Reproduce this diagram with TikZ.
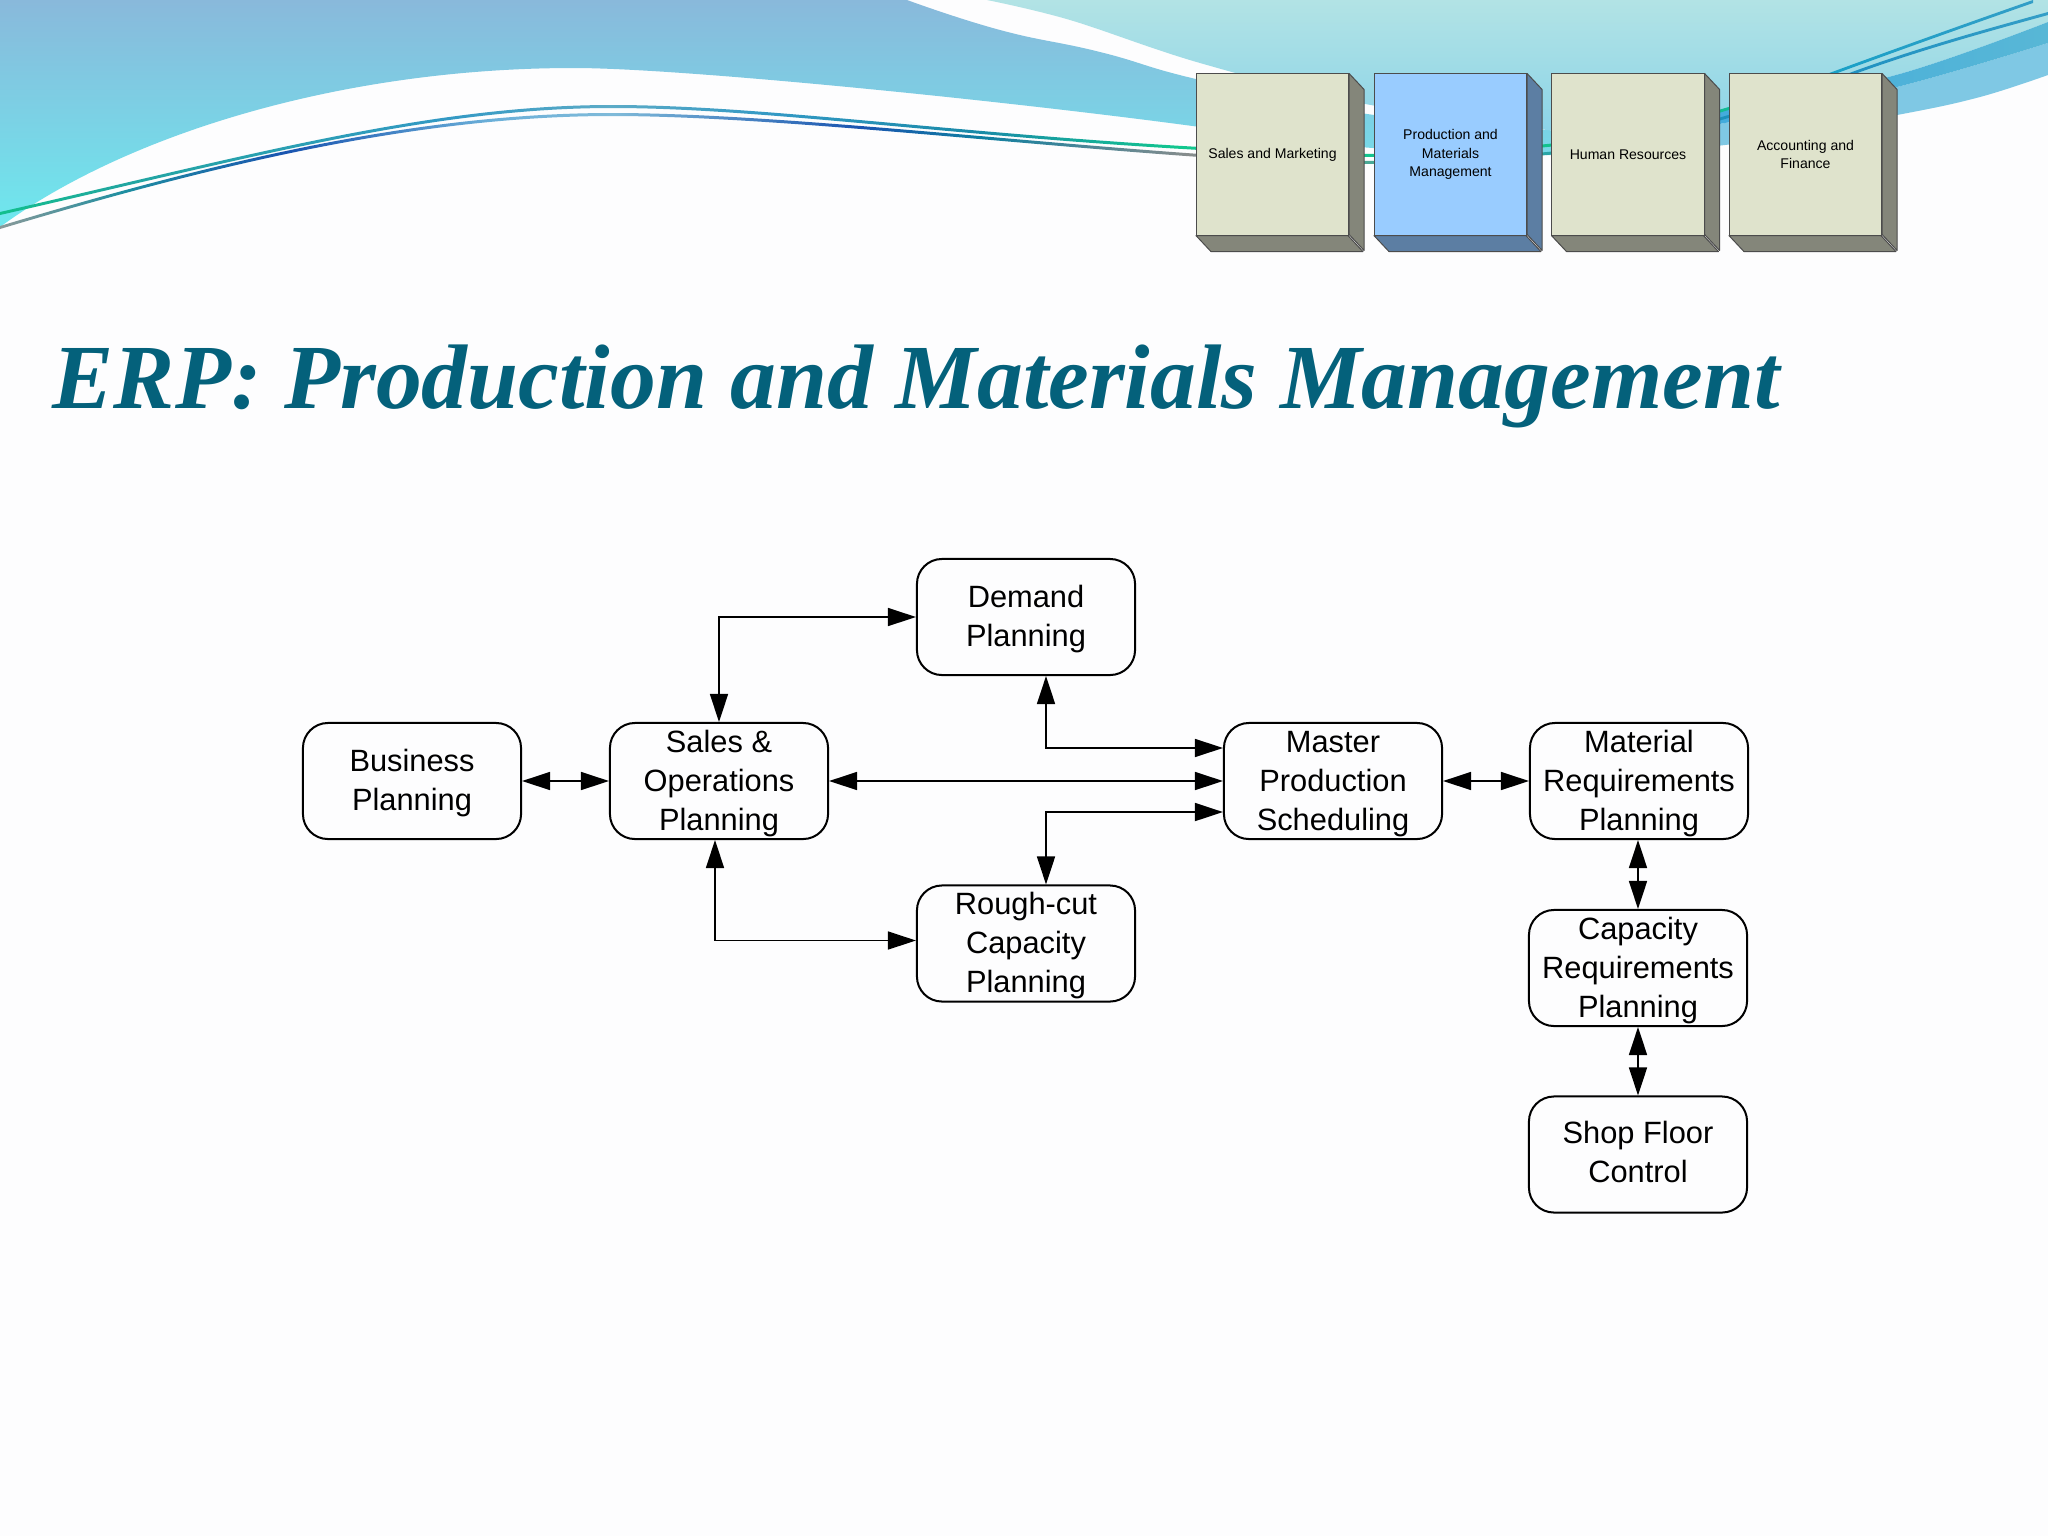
\documentclass[tikz,border=0pt]{standalone}
\usepackage{fontspec}
\setmainfont{Liberation Sans}
\newfontfamily\titlefont{Liberation Serif}
\usetikzlibrary{arrows.meta}

\definecolor{paper}{HTML}{FDFDFE}
\definecolor{erptitle}{HTML}{04617B}
\definecolor{cubeface}{HTML}{DFE3CC}
\definecolor{cubeside}{HTML}{84867A}
\definecolor{activeface}{HTML}{99CCFF}
\definecolor{activeside}{HTML}{5C7EA3}
\definecolor{skytop}{HTML}{89B9DB}
\definecolor{skylow}{HTML}{6EE8EE}
\definecolor{paletop}{HTML}{B2E3E5}
\definecolor{palelow}{HTML}{8AD3E8}
\definecolor{bandlow}{HTML}{7FC8E4}
\definecolor{bandleft}{HTML}{3CA8DE}
\definecolor{bandright}{HTML}{58B7D6}

\pgfdeclarehorizontalshading{greenline}{100bp}{
    rgb(0bp)=(.07,.75,.55); rgb(25bp)=(.07,.75,.55); rgb(28bp)=(.13,.65,.63); rgb(36bp)=(.2,.6,.77);
    rgb(40bp)=(.36,.67,.78); rgb(44bp)=(.2,.6,.77); rgb(49bp)=(.1,.54,.66); rgb(54bp)=(.07,.78,.56);
    rgb(67bp)=(.07,.75,.55); rgb(70bp)=(.1,.63,.78); rgb(75bp)=(.2,.62,.78); rgb(100bp)=(.2,.62,.78)}
\pgfdeclarehorizontalshading{greyline}{100bp}{
    rgb(0bp)=(.54,.6,.6); rgb(25bp)=(.54,.6,.6); rgb(28bp)=(.12,.56,.63); rgb(32bp)=(.1,.33,.69);
    rgb(37bp)=(.42,.69,.85); rgb(40bp)=(.5,.73,.85); rgb(46bp)=(.1,.33,.69); rgb(49bp)=(.06,.5,.63);
    rgb(54bp)=(.53,.55,.55); rgb(60bp)=(.2,.7,.6); rgb(68bp)=(.1,.55,.75); rgb(75bp)=(.2,.62,.78);
    rgb(100bp)=(.2,.62,.78)}

\newcommand{\lead}{\rule{0pt}{7.6pt}}

\begin{document}
\begin{tikzpicture}[
    x=0.01cm,y=-0.01cm,
    stage/.style={draw,rounded corners=0.25cm,align=center,minimum width=2.18cm,minimum height=1.16cm,
        inner sep=0,line width=0.02cm,font=\fontsize{8.76}{11.1}\selectfont},
    cube/.style={draw=black!70,align=center,minimum width=1.52cm,minimum height=1.61cm,inner sep=0,
        line width=0.01cm,font=\fontsize{4}{5.2}\selectfont},
    cube side/.style={draw=black!70,line join=round,line width=0.01cm},
    link/.style={<->,>={Triangle[length=0.28cm,width=0.18cm]},line width=0.016cm}]

    % slide background
    \fill[paper] (0,0) rectangle (2048,1536);
    \shade[top color=skytop,bottom color=skylow]
        (0,0) -- (907,0) -- plot[smooth,tension=.8] coordinates {(907,0) (1000,30) (1100,52) (1200,80) (1360,113) (1547,130) (1640,135)}
        -- plot[smooth,tension=.8] coordinates {(1640,150) (1547,155) (1360,147) (1200,127)}
        .. controls (1000,100) and (680,68) .. (574,68) .. controls (340,68) and (125,135) .. (0,227) -- cycle;
    \shade[top color=paletop,bottom color=palelow]
        (987,0) -- (2048,0) -- (2048,22) -- plot[smooth,tension=.6] coordinates {(2048,22) (1896,75) (1725,110) (1600,135) (1547,130) (1360,103) (1200,63) (1070,20) (987,0)} -- cycle;
    \fill[bandlow]
        plot[smooth,tension=.6] coordinates {(2048,43) (1897,87) (1725,123) (1600,140)}
        -- plot[smooth,tension=.6] coordinates {(1600,150) (1725,145) (1897,115) (1980,97) (2048,75)} -- cycle;
    \shade[left color=bandleft,right color=bandright]
        plot[smooth,tension=.6] coordinates {(2048,22) (1896,75) (1725,110) (1600,135)}
        -- plot[smooth,tension=.6] coordinates {(1600,140) (1725,123) (1897,87) (2048,43)} -- cycle;

    % the two swept lines
    \shade[shading=greenline]
        (0,212) .. controls (250,155) and (430,105) .. (612,105) .. controls (760,105) and (950,133) .. (1200,147)
        .. controls (1300,153) and (1400,160) .. (1547,144) .. controls (1640,135) and (1730,110) .. (1832,72)
        .. controls (1900,47) and (1970,22) .. (2033,0)
        -- (2033,3) .. controls (1970,25) and (1900,50) .. (1832,75) .. controls (1730,113) and (1640,138) .. (1547,147)
        .. controls (1400,163) and (1300,156) .. (1200,150) .. controls (950,136) and (760,108) .. (612,108)
        .. controls (430,108) and (250,158) .. (0,215) -- cycle;
    \shade[shading=greyline]
        (0,226) .. controls (220,160) and (420,113) .. (612,113) .. controls (765,113) and (1000,140) .. (1200,154)
        .. controls (1300,161) and (1400,166) .. (1547,152) .. controls (1640,143) and (1740,116) .. (1852,72)
        .. controls (1920,47) and (1990,28) .. (2048,12)
        -- (2048,15) .. controls (1990,31) and (1920,50) .. (1852,75) .. controls (1740,119) and (1640,146) .. (1547,155)
        .. controls (1400,169) and (1300,164) .. (1200,157) .. controls (1000,143) and (765,116) .. (612,116)
        .. controls (420,116) and (220,163) .. (0,229) -- cycle;

    % module tabs
    \foreach \tabname/\tabx/\tabface/\tabside/\tabtext in {
        tabsales/1272.5/cubeface/cubeside/{Sales and Marketing},
        tabprod/1450.5/activeface/activeside/{Production and\\Materials\\Management},
        tabhr/1628/cubeface/cubeside/{Human Resources},
        tabfin/1805.5/cubeface/cubeside/{Accounting and\\Finance}} {
        \node[cube,fill=\tabface] (\tabname) at (\tabx,154.5) {\tabtext};
        \draw[cube side,fill=\tabside] (\tabname.north east) -- ++(15,16) -- ++(0,161) -- ++(-15,-16) -- cycle;
        \draw[cube side,fill=\tabside] (\tabname.south west) -- ++(15,16) -- ++(152,0) -- ++(-15,-16) -- cycle;
    }

    \node[anchor=base west,inner sep=0,text=erptitle,font=\titlefont\bfseries\itshape\fontsize{26.07}{32}\selectfont] (title) at (52,408)
        {ERP: Production and Materials Management};

    \node[stage] (business) at (412,781) {\lead Business\\Planning};
    \node[stage] (sales) at (719,781) {\lead Sales \&\\Operations\\Planning};
    \node[stage] (demand) at (1026,617) {\lead Demand\\Planning};
    \node[stage] (rough) at (1026,943.5) {\lead Rough-cut\\Capacity\\Planning};
    \node[stage] (master) at (1333,781) {\lead Master\\Production\\Scheduling};
    \node[stage] (material) at (1639,781) {\lead Material\\Requirements\\Planning};
    \node[stage] (capacity) at (1638,968) {\lead Capacity\\Requirements\\Planning};
    \node[stage] (shop) at (1638,1154.5) {\lead Shop Floor\\Control\rule[-2.6pt]{0pt}{0pt}};

    \draw[link] (business) -- (sales);
    \draw[link] (sales) -- (master);
    \draw[link] (master) -- (material);
    \draw[link] (sales.north) |- (demand.west);
    \draw[link] ([xshift=-0.04cm]sales.south) |- ([yshift=0.03cm]rough.west);
    \draw[link] ([xshift=0.2cm]demand.south) |- ([yshift=0.33cm]master.west);
    \draw[link] ([xshift=0.2cm]rough.north) |- ([yshift=-0.31cm]master.west);
    \draw[link] (capacity.north |- material.south) -- (capacity.north);
    \draw[link] (capacity) -- (shop);
\end{tikzpicture}
\end{document}
